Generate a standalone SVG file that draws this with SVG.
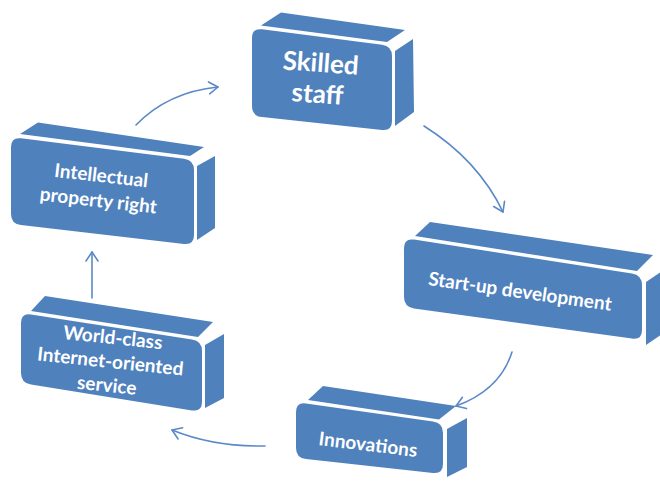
<svg xmlns="http://www.w3.org/2000/svg" width="660" height="483" viewBox="0 0 660 483">
  <defs>
    <style>
      .face { fill: #4F81BD; }
      .label { fill: #FFFFFF; font-family: Lato, "Open Sans", "Liberation Sans", sans-serif; font-weight: bold; text-anchor: middle; }
      .conn { fill: none; stroke: #5B89C8; stroke-width: 1.6; stroke-linecap: round; }
    </style>
    <marker id="arrow" markerUnits="userSpaceOnUse" markerWidth="24" markerHeight="24" viewBox="-12 -12 24 24" refX="0" refY="0" orient="auto">
      <path d="M-9,-6 L0,0 L-9,6" fill="none" stroke="#5B89C8" stroke-width="1.6" stroke-linecap="round" stroke-linejoin="round"/>
    </marker>
  </defs>

  <rect width="660" height="483" fill="#FFFFFF"/>

  <!-- cycle connectors -->
  <g id="connectors">
    <path class="conn" d="M136,125 Q168,92 218,87" marker-end="url(#arrow)"/>
    <path class="conn" d="M424,126 Q478,160 503,212" marker-end="url(#arrow)"/>
    <path class="conn" d="M512,352 Q500,390 456,406" marker-end="url(#arrow)"/>
    <path class="conn" d="M265,446 Q214,447 172,430" marker-end="url(#arrow)"/>
    <path class="conn" d="M92,298 L92,252" marker-end="url(#arrow)"/>
  </g>

  <!-- Skilled staff -->
  <g id="node-skilled-staff">
    <polygon class="face" points="261,25.5 281,12.5 405,30 387,42"/>
    <polygon class="face" points="395,51 413,39 414,112 395,126"/>
    <path class="face" d="M262,29.3 L382,44.7 Q392,46 392,56 L392,121 Q392,131 382,129.9 L262,117.1 Q252,116 252,106 L252,38 Q252,28 262,29.3 Z"/>
    <g transform="rotate(4 319 88)">
      <text class="label" x="319" y="72" font-size="26">Skilled</text>
      <text class="label" x="318" y="103" font-size="26">staff</text>
    </g>
  </g>

  <!-- Intellectual property right -->
  <g id="node-ip-right">
    <polygon class="face" points="20,134 38,122.5 204,147 190,156"/>
    <polygon class="face" points="197,166 215,156 215,228 197,240"/>
    <path class="face" d="M21,138.3 L184,158.7 Q194,160 194,170 L194,235 Q194,245 184,243.9 L21,225.1 Q11,224 11,214 L11,147 Q11,137 21,138.3 Z"/>
    <g transform="rotate(6.5 99 195)">
      <text class="label" x="99" y="182" font-size="19">Intellectual</text>
      <text class="label" x="99" y="207" font-size="19">property right</text>
    </g>
  </g>

  <!-- Start-up development -->
  <g id="node-startup">
    <polygon class="face" points="415,236 430,222 653,255 637,271"/>
    <polygon class="face" points="646,282 662,271 662,334 646,345"/>
    <path class="face" d="M414,239.6 L632,273.4 Q642,275 642,285 L642,330 Q642,340 632,338.6 L414,308.4 Q404,307 404,297 L404,248 Q404,238 414,239.6 Z"/>
    <text class="label" x="520" y="298" font-size="19" transform="rotate(8 520 292)">Start-up development</text>
  </g>

  <!-- World-class Internet-oriented service -->
  <g id="node-world-class">
    <polygon class="face" points="31,311 45,296 213,322 198,337"/>
    <polygon class="face" points="205,345 224,334 224,398 205,408"/>
    <path class="face" d="M31,314.5 L192,339.5 Q202,341 202,351 L202,402 Q202,412 192,410.4 L31,384.6 Q21,383 21,373 L21,323 Q21,313 31,314.5 Z"/>
    <g transform="rotate(6 110 365)">
      <text class="label" x="110" y="344" font-size="19">World-class</text>
      <text class="label" x="110" y="368" font-size="19">Internet-oriented</text>
      <text class="label" x="109" y="392" font-size="19">service</text>
    </g>
  </g>

  <!-- Innovations -->
  <g id="node-innovations">
    <polygon class="face" points="308,400 323,386 456,406 439,419.5"/>
    <polygon class="face" points="447,429 467,418 467,467 447,477"/>
    <path class="face" d="M306,403.4 L433,421.6 Q443,423 443,433 L443,464 Q443,474 433,472.9 L306,459.1 Q296,458 296,448 L296,412 Q296,402 306,403.4 Z"/>
    <text class="label" x="368" y="451" font-size="19" transform="rotate(7 368 445)">Innovations</text>
  </g>
</svg>
